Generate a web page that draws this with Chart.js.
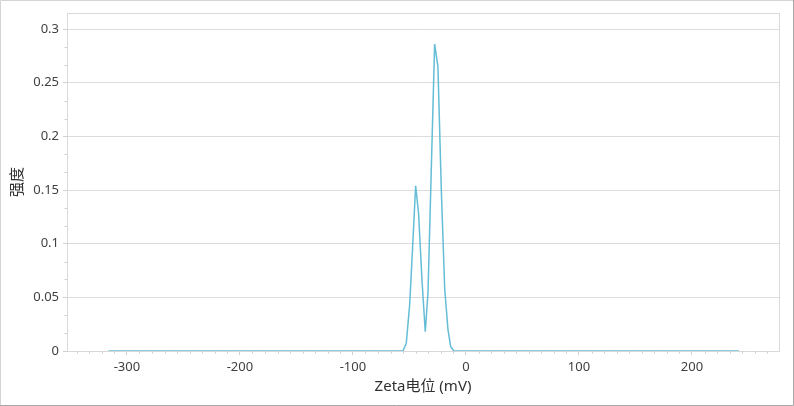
<!DOCTYPE html>
<html>
<head>
<meta charset="utf-8">
<script src="https://cdn.jsdelivr.net/npm/chart.js@4.4.1/dist/chart.umd.min.js"></script>
<style>
  html, body { margin: 0; padding: 0; background: #fff; }
  #wrap { width: 794px; height: 406px; }
</style>
</head>
<body>
<div id="wrap"><canvas id="zeta" width="794" height="406"></canvas></div>
<script>
// Zeta potential distribution
const zetaMv = [-316.5, -55.8, -52.8, -49.8, -46.9, -44.5, -41.9, -38.9, -36.0, -33.6, -27.7, -24.8, -21.8, -18.8, -15.9, -13.5, -10.6, 241.6];
const intensity = [0, 0, 0.0072, 0.043, 0.103, 0.154, 0.128, 0.066, 0.018, 0.054, 0.286, 0.265, 0.15, 0.058, 0.020, 0.004, 0, 0];
const xTicks = [-300, -200, -100, 0, 100, 200];
const yTicks = [0, 0.05, 0.1, 0.15, 0.2, 0.25, 0.3];

const xMinorDiv = 9;
const yMinorDiv = 3;
const tickFont = { family: "'Noto Sans', sans-serif", size: 13 };
const titleFont = { family: "'Noto Sans', 'Noto Sans CJK SC', sans-serif", size: 15 };

const px = v => Math.round(v) + 0.5;

// plot frame + minor tick marks, and the outer border of the picture
const framePlugin = {
  id: 'frame',
  beforeDraw(chart) {
    const { ctx, width, height } = chart;
    ctx.save();
    ctx.fillStyle = '#fff';
    ctx.fillRect(0, 0, width, height);
    ctx.restore();
  },
  beforeDatasetsDraw(chart) {
    const { ctx, chartArea: a, scales: { x, y } } = chart;
    ctx.save();
    ctx.strokeStyle = '#d9d9d9';
    ctx.lineWidth = 1;
    ctx.strokeRect(px(a.left), px(a.top), Math.round(a.right - a.left), Math.round(a.bottom - a.top));

    ctx.strokeStyle = '#cfcfcf';
    ctx.beginPath();
    const xs = 100 / xMinorDiv;
    const near = (v, s) => Math.abs(v / s - Math.round(v / s)) < 1e-6;
    for (let v = xTicks[0] - xs; v > x.min; v -= xs) {
      const p = px(x.getPixelForValue(v));
      ctx.moveTo(p, a.bottom); ctx.lineTo(p, a.bottom + 2.5);
    }
    for (let v = xTicks[0] + xs; v < x.max; v += xs) {
      if (near(v, 100)) continue;
      const p = px(x.getPixelForValue(v));
      ctx.moveTo(p, a.bottom); ctx.lineTo(p, a.bottom + 2.5);
    }
    const ys = 0.05 / yMinorDiv;
    for (let v = ys; v < y.max; v += ys) {
      if (near(v, 0.05)) continue;
      const p = px(y.getPixelForValue(v));
      ctx.moveTo(a.left - 2.5, p); ctx.lineTo(a.left, p);
    }
    ctx.stroke();
    ctx.restore();
  },
  afterDraw(chart) {
    const { ctx, width, height } = chart;
    ctx.save();
    ctx.lineWidth = 1;
    ctx.strokeStyle = '#d4d4d4';
    ctx.beginPath();
    ctx.moveTo(0.5, height); ctx.lineTo(0.5, 0.5); ctx.lineTo(width, 0.5);
    ctx.stroke();
    ctx.strokeStyle = '#a9a9a9';
    ctx.beginPath();
    ctx.moveTo(width - 0.5, 0); ctx.lineTo(width - 0.5, height - 0.5); ctx.lineTo(0, height - 0.5);
    ctx.stroke();
    ctx.restore();
  }
};

new Chart(document.getElementById('zeta').getContext('2d'), {
  type: 'line',
  data: {
    datasets: [{
      data: zetaMv.map((x, i) => ({ x, y: intensity[i] })),
      borderColor: 'rgb(100,189,214)',
      borderWidth: 1.5,
      pointRadius: 0,
      tension: 0,
      fill: false
    }]
  },
  options: {
    responsive: false,
    animation: false,
    layout: { padding: { left: 0, top: 13, right: 15, bottom: 0 } },
    plugins: { legend: { display: false }, tooltip: { enabled: false } },
    scales: {
      x: {
        type: 'linear',
        min: -353,
        max: 277,
        afterBuildTicks: s => { s.ticks = xTicks.map(value => ({ value })); },
        afterFit: s => { s.height = 55; },
        grid: { drawOnChartArea: false, drawTicks: true, tickLength: 4, color: '#cfcfcf' },
        border: { color: '#d9d9d9' },
        ticks: { color: '#404040', font: tickFont, padding: 4, maxRotation: 0 },
        title: { display: true, text: 'Zeta电位 (mV)', color: '#303030', font: titleFont, padding: { top: 0, bottom: 10 } }
      },
      y: {
        min: 0,
        max: 0.315,
        afterBuildTicks: s => { s.ticks = yTicks.map(value => ({ value })); },
        afterFit: s => { s.width = 67; },
        grid: { color: '#dcdcdc', tickLength: 4, tickColor: '#cfcfcf' },
        border: { color: '#d9d9d9' },
        ticks: { color: '#404040', font: tickFont, padding: 4, callback: v => String(+v.toFixed(2)) },
        title: { display: true, text: '强度', color: '#303030', font: titleFont, padding: { top: 9, bottom: 0 } }
      }
    }
  },
  plugins: [framePlugin]
});
</script>
</body>
</html>
